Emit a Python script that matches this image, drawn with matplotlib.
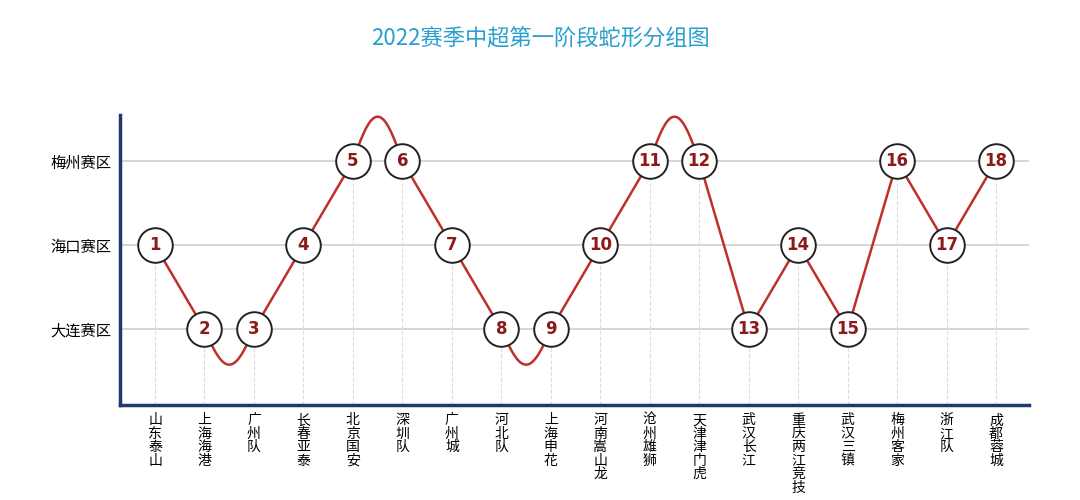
import numpy as np
import matplotlib
matplotlib.use("Agg")
import matplotlib.pyplot as plt

plt.rcParams["font.family"] = ["Noto Sans CJK JP", "Noto Sans CJK SC", "DejaVu Sans"]

teams = ["山东泰山", "上海海港", "广州队", "长春亚泰", "北京国安", "深圳队", "广州城", "河北队",
         "上海申花", "河南嵩山龙", "沧州雄狮", "天津津门虎", "武汉长江", "重庆两江竞技", "武汉三镇",
         "梅州客家", "浙江队", "成都蓉城"]
zones = ["大连赛区", "海口赛区", "梅州赛区"]
levels = [2, 1, 1, 2, 3, 3, 2, 1, 1, 2, 3, 3, 1, 2, 1, 3, 2, 3]
seeds = list(range(1, 19))

fig = plt.figure(figsize=(10.8, 5.0), dpi=100)
ax = fig.add_axes([0.111, 0.19, 0.842, 0.58])
x = np.arange(len(teams))

# snake path: straight segments, arcs where two neighbours share a level
px, py = [], []
for i in range(len(x) - 1):
    x0, x1, y0, y1 = x[i], x[i + 1], levels[i], levels[i + 1]
    t = np.linspace(0, 1, 40)
    if y0 == y1:
        amp = 0.53 if y0 == 3 else -0.42
        yy = y0 + amp * np.sin(np.pi * t)
    else:
        yy = y0 + (y1 - y0) * t
    px.extend(x0 + (x1 - x0) * t)
    py.extend(yy)
ax.plot(px, py, color="#c0302a", lw=1.8, zorder=2)

for lv in (1, 2, 3):
    ax.axhline(lv, color="#d0d0d0", lw=1.2, zorder=0)
for xi, lv in zip(x, levels):
    ax.plot([xi, xi], [0.1, lv], color="#dddddd", lw=0.8, ls="--", zorder=0)

ax.scatter(x, levels, s=620, facecolor="white", edgecolor="#222222", lw=1.4, zorder=3)
for xi, lv, s in zip(x, levels, seeds):
    ax.text(xi, lv, str(s), ha="center", va="center", fontsize=12, fontweight="bold",
            color="#8b1a1a", zorder=4, family="DejaVu Sans")

ax.set_xlim(-0.71, 17.67)
ax.set_ylim(0.1, 3.55)
ax.set_yticks([1, 2, 3])
ax.set_yticklabels(zones, fontsize=11)
ax.set_xticks(x)
ax.set_xticklabels(["\n".join(t) for t in teams], fontsize=10, va="top", linespacing=0.95)
ax.tick_params(length=0, pad=6)
for s in ("top", "right"):
    ax.spines[s].set_visible(False)
for s in ("left", "bottom"):
    ax.spines[s].set_color("#1f3a6b")
    ax.spines[s].set_linewidth(2.5)

fig.text(0.5, 0.925, "2022赛季中超第一阶段蛇形分组图", ha="center", va="center",
         fontsize=16, color="#2a9fd0")
fig.savefig("out.png", dpi=100)
